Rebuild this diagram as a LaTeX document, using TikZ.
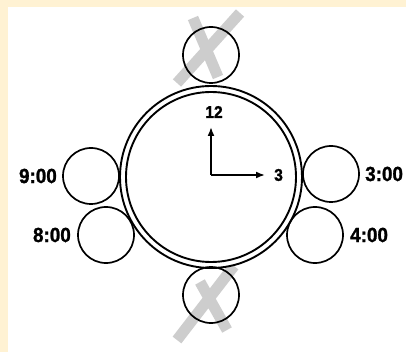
\documentclass[tikz,border=0pt]{standalone}
\usepackage{fontspec}
\setmainfont{Liberation Sans}
\newfontfamily\dialfont[FakeStretch=0.92,FakeBold=1.2]{Liberation Sans Bold}
\usetikzlibrary{arrows.meta}
\definecolor{cream}{HTML}{FFF2D3}
\definecolor{xgray}{HTML}{CDCDCD}

\begin{document}
\begin{tikzpicture}[x=1pt,y=-1pt,
  seat/.style={draw,circle,line width=1.7pt,minimum size=56pt,inner sep=0pt},
  ring/.style={draw,circle,line width=1.9pt,inner sep=0pt},
  time/.style={inner sep=0pt,font=\dialfont\fontsize{20.5}{20.5}\selectfont},
  mark12/.style={inner sep=0pt,font=\dialfont\fontsize{17}{17}\selectfont},
  hand/.style={line width=1.7pt,-{Latex[length=9pt,width=7pt]}},
  cross/.style={xgray,line width=11pt}]
  \useasboundingbox (0,0) rectangle (406,352);
  \fill[cream] (0,0) rectangle (406,352);
  \fill[white] (8,7) rectangle (406,352);
  % crossed-out seats
  \draw[cross] (240,13) -- (177,83) (193,18) -- (218,77);
  \draw[cross] (234,266) -- (177,340) (200,282) -- (227,330);
  % clock
  \node[ring,fill=white,minimum size=182pt] (rim) at (211,177) {};
  \node[ring,minimum size=170pt] (face) at (211,177) {};
  \node[seat] (top) at (211,55) {};
  \node[seat] (bot) at (211,295) {};
  \node[seat] (s9) at (91,176) {};
  \node[seat] (s8) at (106,235) {};
  \node[seat] (s3) at (331,174) {};
  \node[seat] (s4) at (315,235) {};
  \node[time,anchor=east] (t9) at (57,176) {9:00};
  \node[time,anchor=east] (t8) at (71,235) {8:00};
  \node[time,anchor=west] (t3) at (365,174) {3:00};
  \node[time,anchor=west] (t4) at (350,235) {4:00};
  \node[mark12] (n12) at (214,112) {12};
  \node[mark12,anchor=west] (n3) at (274,175) {3};
  \coordinate (hub) at (211,175);
  \coordinate (h12) at (211,127);
  \coordinate (h3) at (265,175);
  \draw[hand] (hub) -- (h12);
  \draw[hand] (hub) -- (h3);
\end{tikzpicture}
\end{document}
